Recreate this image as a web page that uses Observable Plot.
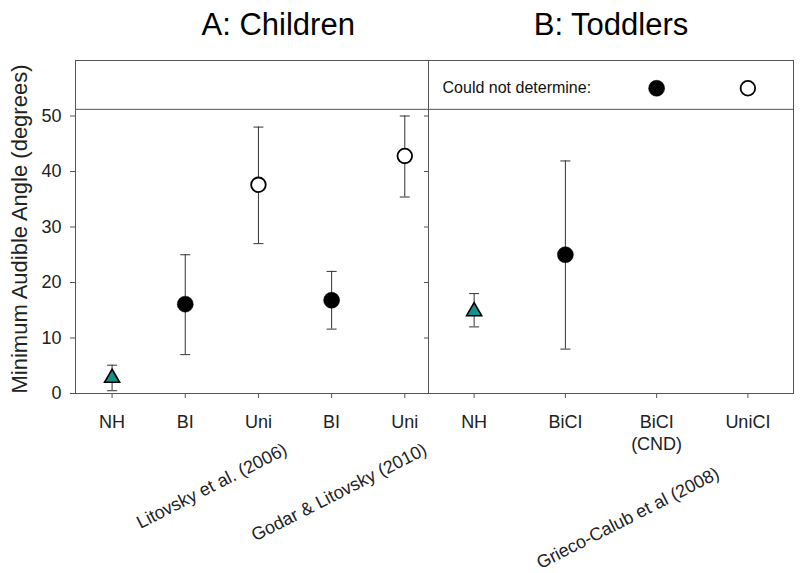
<!DOCTYPE html>
<html><head><meta charset="utf-8">
<script src="https://cdn.jsdelivr.net/npm/d3@7"></script>
<script src="https://cdn.jsdelivr.net/npm/@observablehq/plot@0.6"></script>
<style>
body{margin:0;background:#fff;}
#chart{position:relative;width:800px;height:573px;}
#chart svg{position:absolute;top:0;}
</style></head><body><div id="chart"></div>
<script>
// ---- data ----
const childCategories = ["NH", "BI", "Uni", "BI", "Uni"];
const childValues = [2.8, 16.1, 37.6, 16.8, 42.8];
const childLow = [0.5, 7.0, 27.0, 11.6, 35.4];
const childHigh = [5.1, 25.0, 48.0, 22.0, 50.0];
const childKind = ["NH", "filled", "open", "filled", "open"];

const toddlerCategories = ["NH", "BiCI", "BiCI\n(CND)", "UniCI"];
const toddlerValues = [14.8, 25.0];
const toddlerLow = [12.0, 8.0];
const toddlerHigh = [18.0, 41.9];
const toddlerKind = ["NH", "filled"];

const cndKind = ["filled", "open"];       // "could not determine" markers for categories 3 and 4
const cndCategory = [3, 4];
const yTicks = [0, 10, 20, 30, 40, 50];
const yMax = 60;
const breakValue = 51.2;
const cndValue = 55;
const titles = ["A: Children", "B: Toddlers"];
const childCitations = ["Litovsky et al. (2006)", "Godar & Litovsky (2010)"];
const toddlerCitations = ["Grieco-Calub et al (2008)"];
const yLabel = "Minimum Audible Angle (degrees)";
const legendLabel = "Could not determine:";

// ---- build ----
const FONT = "'Liberation Sans', Arial, sans-serif";
const TEAL = "#15908a";
const LINE = "#555";
const ERR = "#333";
const capSymbol = {draw(ctx, size) { const r = Math.sqrt(size / Math.PI); ctx.moveTo(-r, 0); ctx.lineTo(r, 0); }};

function rows(values, lo, hi, kind) {
  return values.map((v, i) => ({pos: i + 1, value: v, lo: lo[i], hi: hi[i], kind: kind[i]}));
}
const childRows = rows(childValues, childLow, childHigh, childKind);
const toddlerRows = rows(toddlerValues, toddlerLow, toddlerHigh, toddlerKind);
const cndRows = cndKind.map((k, i) => ({pos: cndCategory[i], value: cndValue, kind: k}));

function symbolMarks(data) {
  return [
    Plot.dot(data.filter(d => d.kind === "NH"), {x: "pos", y: "value", symbol: "triangle", r: 5.6, fill: TEAL, stroke: "#000", strokeWidth: 1.6}),
    Plot.dot(data.filter(d => d.kind === "filled"), {x: "pos", y: "value", r: 8, fill: "#000", stroke: "#000", strokeWidth: 0.5}),
    Plot.dot(data.filter(d => d.kind === "open"), {x: "pos", y: "value", r: 7.3, fill: "#fff", stroke: "#000", strokeWidth: 1.8})
  ];
}
function pointMarks(data) {
  return [
    Plot.ruleX(data, {x: "pos", y1: "lo", y2: "hi", stroke: ERR, strokeWidth: 1}),
    Plot.dot(data, {x: "pos", y: "lo", symbol: capSymbol, r: 5, stroke: ERR, strokeWidth: 1, fill: "none"}),
    Plot.dot(data, {x: "pos", y: "hi", symbol: capSymbol, r: 5, stroke: ERR, strokeWidth: 1, fill: "none"}),
    ...symbolMarks(data)
  ];
}

const common = {
  height: 573,
  marginTop: 60,
  marginBottom: 180,
  style: {fontFamily: FONT, fontSize: "18px", background: "transparent", overflow: "visible", color: "#111"}
};

const left = Plot.plot({
  ...common,
  width: 430,
  marginLeft: 75,
  marginRight: 2,
  x: {type: "linear", domain: [0.5, 5.324]},
  y: {domain: [0, yMax]},
  marks: [
    Plot.ruleY([breakValue], {stroke: LINE, strokeWidth: 1}),
    Plot.frame({stroke: LINE, strokeWidth: 1}),
    Plot.axisY(yTicks, {anchor: "left", tickSize: 5, tickPadding: 9, fontSize: 18, label: null, stroke: LINE, fill: "#222"}),
    Plot.axisY(yTicks, {anchor: "right", tickSize: 5, dx: -5, fill: "none", label: null, stroke: LINE}),
    Plot.axisX(childCategories.map((d, i) => i + 1), {tickSize: 5, fill: "none", label: null, stroke: LINE}),
    Plot.text(childCategories, {x: (d, i) => i + 1, text: d => d, frameAnchor: "bottom", dy: 19, lineAnchor: "top", lineHeight: 1.22, fontSize: 18, fill: "#222"}),
    Plot.text(childCitations, {x: [3.41, 5.32], text: d => d, frameAnchor: "bottom", dy: 60, rotate: -27, textAnchor: "end", lineAnchor: "bottom", fontSize: 18, fill: "#222"}),
    Plot.text([titles[0]], {x: [3.27], text: d => d, frameAnchor: "top", dy: -25.7, lineAnchor: "bottom", fontSize: 31, fill: "#000"}),
    Plot.text([yLabel], {text: d => d, frameAnchor: "left", textAnchor: "middle", dx: -49, dy: 2, rotate: -90, lineAnchor: "bottom", fontSize: 22, fill: "#222"}),
    ...pointMarks(childRows)
  ]
});

const right = Plot.plot({
  ...common,
  width: 374,
  marginLeft: 2,
  marginRight: 7,
  x: {type: "linear", domain: [0.5, 4.5]},
  y: {domain: [0, yMax], axis: null},
  marks: [
    Plot.ruleY([breakValue], {stroke: LINE, strokeWidth: 1}),
    Plot.frame({stroke: LINE, strokeWidth: 1}),
    Plot.axisX(toddlerCategories.map((d, i) => i + 1), {tickSize: 5, fill: "none", label: null, stroke: LINE}),
    Plot.text(toddlerCategories, {x: (d, i) => i + 1, text: d => d, frameAnchor: "bottom", dy: 19, lineAnchor: "top", lineHeight: 1.22, fontSize: 18, fill: "#222"}),
    Plot.text(toddlerCitations, {x: [3.70], text: d => d, frameAnchor: "bottom", dy: 84, rotate: -27, textAnchor: "end", lineAnchor: "bottom", fontSize: 18, fill: "#222"}),
    Plot.text([titles[1]], {x: [2.5], text: d => d, frameAnchor: "top", dy: -25.7, lineAnchor: "bottom", fontSize: 31, fill: "#000"}),
    Plot.text([legendLabel], {x: [0.654], y: [cndValue], text: d => d, textAnchor: "start", fontSize: 16, fill: "#111"}),
    ...symbolMarks(cndRows),
    ...pointMarks(toddlerRows)
  ]
});

const chart = document.getElementById("chart");
left.style.left = "0px";
right.style.left = "426px";
chart.appendChild(left);
chart.appendChild(right);
</script></body></html>
